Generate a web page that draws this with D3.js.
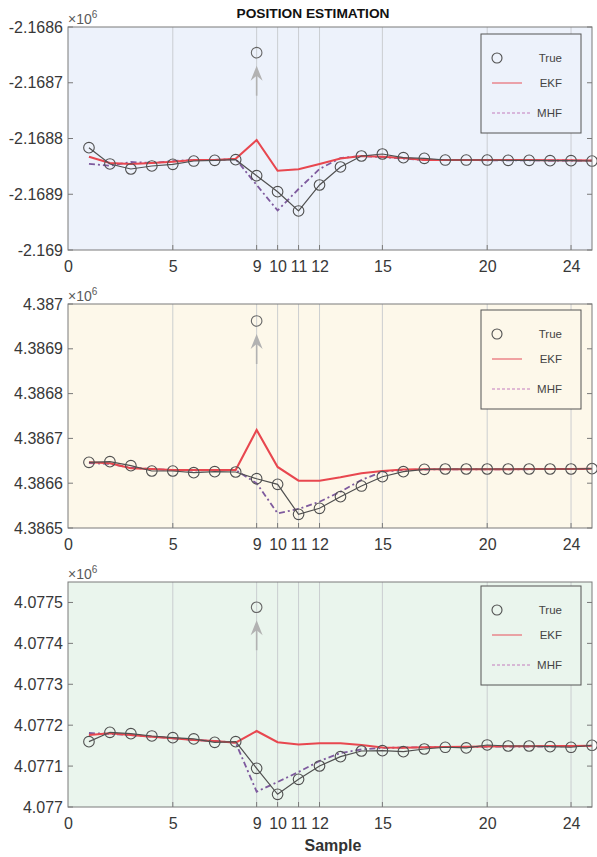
<!DOCTYPE html>
<html><head><meta charset="utf-8">
<script src="https://cdn.jsdelivr.net/npm/d3@7"></script>
<style>
body{margin:0;background:#fff}
svg{display:block}
text{font-family:"Liberation Sans",Arial,Helvetica,sans-serif}
</style>
</head><body>
<svg id="chart" width="597" height="857"></svg>
<script>
// ---------------- DATA (values in units of 10^6) ----------------
const samples = [1,2,3,4,5,6,7,8,9,10,11,12,13,14,15,16,17,18,19,20,21,22,23,24,25];
const xTicks = [0,5,9,10,11,12,15,20,24];
const gridX = [5,9,10,11,12,15,20,24];
const seriesNames = ["True","EKF","MHF"];
const chartTitle = "POSITION ESTIMATION";
const xLabel = "Sample";
const outlierSample = 9;

// Panel 1
const p1Domain = [-2.169, -2.1686];
const p1Ticks = [-2.1686,-2.1687,-2.1688,-2.1689,-2.169];
const p1TickLabels = ["-2.1686","-2.1687","-2.1688","-2.1689","-2.169"];
const p1True = [-2.1688165,-2.1688457,-2.1688547,-2.1688493,-2.1688463,-2.1688404,-2.1688391,-2.168838,-2.1688667,-2.1688954,-2.16893,-2.1688834,-2.1688511,-2.1688314,-2.1688278,-2.1688344,-2.1688355,-2.1688386,-2.1688386,-2.1688386,-2.1688391,-2.1688391,-2.1688398,-2.1688398,-2.1688404];
const p1EKF = [-2.1688326,-2.1688439,-2.1688457,-2.1688439,-2.1688416,-2.1688386,-2.1688386,-2.1688362,-2.1688027,-2.1688578,-2.1688552,-2.1688457,-2.1688359,-2.1688314,-2.1688326,-2.168835,-2.1688386,-2.1688386,-2.1688386,-2.1688386,-2.1688386,-2.1688386,-2.1688391,-2.1688391,-2.1688395];
const p1MHF = [-2.1688457,-2.1688488,-2.1688422,-2.1688439,-2.1688404,-2.1688386,-2.1688386,-2.1688368,-2.1688834,-2.1689291,-2.1688906,-2.1688547,-2.168835,-2.1688314,-2.1688332,-2.1688359,-2.1688386,-2.1688386,-2.1688386,-2.1688391,-2.1688391,-2.1688391,-2.1688395,-2.1688395,-2.1688398];
const p1Outlier = -2.1686461;

// Panel 2
const p2Domain = [4.3865, 4.387];
const p2Ticks = [4.387,4.3869,4.3868,4.3867,4.3866,4.3865];
const p2TickLabels = ["4.387","4.3869","4.3868","4.3867","4.3866","4.3865"];
const p2True = [4.3866467,4.386648,4.3866391,4.3866272,4.3866272,4.3866234,4.3866257,4.386625,4.38661,4.3865975,4.3865306,4.386544,4.3865699,4.3865937,4.3866145,4.3866257,4.386631,4.3866317,4.3866317,4.3866317,4.3866317,4.3866317,4.3866317,4.3866317,4.3866324];
const p2EKF = [4.3866467,4.3866444,4.3866333,4.3866317,4.3866295,4.3866295,4.3866295,4.3866295,4.3867188,4.3866362,4.3866056,4.3866056,4.3866132,4.3866221,4.3866272,4.3866306,4.386631,4.386631,4.386631,4.386631,4.386631,4.3866317,4.3866317,4.3866317,4.3866324];
const p2MHF = [4.3866451,4.3866429,4.3866346,4.3866317,4.3866295,4.3866283,4.3866295,4.3866295,4.3865998,4.3865328,4.3865424,4.3865587,4.386581,4.3866071,4.3866257,4.3866295,4.3866306,4.386631,4.386631,4.386631,4.386631,4.386631,4.3866317,4.3866317,4.3866324];
const p2Outlier = 4.3869621;

// Panel 3
const p3Domain = [4.077, 4.07755];
const p3Ticks = [4.0775,4.0774,4.0773,4.0772,4.0771,4.077];
const p3TickLabels = ["4.0775","4.0774","4.0773","4.0772","4.0771","4.077"];
const p3True = [4.0771597,4.0771826,4.0771792,4.0771736,4.0771694,4.0771663,4.0771582,4.0771597,4.0770946,4.0770311,4.0770677,4.0771002,4.077123,4.0771369,4.0771377,4.0771352,4.0771418,4.077146,4.0771443,4.0771516,4.0771491,4.0771491,4.0771474,4.077146,4.0771509];
const p3EKF = [4.077176,4.0771802,4.077176,4.0771719,4.077168,4.0771638,4.0771614,4.0771572,4.0771858,4.0771582,4.0771528,4.0771557,4.0771557,4.0771516,4.0771455,4.077145,4.077146,4.0771467,4.0771474,4.0771479,4.0771484,4.0771484,4.0771491,4.0771491,4.0771499];
const p3MHF = [4.0771809,4.0771785,4.077176,4.0771719,4.077168,4.0771638,4.0771614,4.0771572,4.0770374,4.0770611,4.0770856,4.0771125,4.077132,4.0771406,4.0771443,4.0771455,4.077146,4.0771467,4.0771467,4.0771474,4.0771474,4.0771479,4.0771479,4.0771484,4.0771491];
const p3Outlier = 4.0774883;

// ---------------- LAYOUT / STYLE ----------------
const left = 68, right = 592;
const panels = [
  {top:27,  bottom:250, bg:"#edf2fb", domain:p1Domain, ticks:p1Ticks, labels:p1TickLabels, tru:p1True, ekf:p1EKF, mhf:p1MHF, outlier:p1Outlier, legendTop:34},
  {top:304, bottom:528, bg:"#fdf8ea", domain:p2Domain, ticks:p2Ticks, labels:p2TickLabels, tru:p2True, ekf:p2EKF, mhf:p2MHF, outlier:p2Outlier, legendTop:310},
  {top:582, bottom:807, bg:"#eaf5ed", domain:p3Domain, ticks:p3Ticks, labels:p3TickLabels, tru:p3True, ekf:p3EKF, mhf:p3MHF, outlier:p3Outlier, legendTop:586}
];
const colTrue = "#505050", colEKF = "#e8474f", colMHF = "#7e5a9e";
const axisCol = "#7a7a7a", textCol = "#383838";

const svg = d3.select("#chart");
const x = d3.scaleLinear().domain([0,25]).range([left,right]);

svg.append("text")
  .attr("x", 313).attr("y", 18)
  .attr("text-anchor","middle")
  .attr("font-size", 12).attr("font-weight","bold")
  .attr("fill","#111")
  .attr("textLength",153).attr("lengthAdjust","spacingAndGlyphs")
  .text(chartTitle);

panels.forEach(p => {
  const y = d3.scaleLinear().domain(p.domain).range([p.bottom, p.top]);
  const g = svg.append("g");

  g.append("rect").attr("x",left).attr("y",p.top)
    .attr("width",right-left).attr("height",p.bottom-p.top)
    .attr("fill",p.bg);

  g.selectAll(".grid").data(gridX).enter().append("line")
    .attr("x1",d=>x(d)).attr("x2",d=>x(d))
    .attr("y1",p.top).attr("y2",p.bottom)
    .attr("stroke","#c6c9cd").attr("stroke-width",0.9);

  const xAxis = d3.axisBottom(x).tickValues(xTicks).tickSize(0).tickPadding(11).tickFormat(d3.format("d"));
  const xa = g.append("g").attr("transform",`translate(0,${p.bottom})`).call(xAxis);
  xa.select(".domain").remove();
  xa.selectAll("text").attr("font-size",16).attr("fill",textCol).attr("font-family","'Liberation Sans',Arial,sans-serif");
  g.selectAll(".bt").data(xTicks.filter(d=>d>0)).enter().append("line")
    .attr("x1",d=>x(d)).attr("x2",d=>x(d))
    .attr("y1",p.bottom).attr("y2",p.bottom-5)
    .attr("stroke",axisCol).attr("stroke-width",1);

  const yAxis = d3.axisLeft(y).tickValues(p.ticks).tickSize(0).tickPadding(5)
    .tickFormat((d,i)=>p.labels[i]);
  const ya = g.append("g").attr("transform",`translate(${left},0)`).call(yAxis);
  ya.select(".domain").remove();
  ya.selectAll("text").attr("font-size",16).attr("fill",textCol).attr("font-family","'Liberation Sans',Arial,sans-serif");
  g.selectAll(".lt").data(p.ticks).enter().append("line")
    .attr("x1",left).attr("x2",left+5).attr("y1",d=>y(d)).attr("y2",d=>y(d))
    .attr("stroke",axisCol);
  g.selectAll(".rt").data(p.ticks).enter().append("line")
    .attr("x1",right).attr("x2",right-5).attr("y1",d=>y(d)).attr("y2",d=>y(d))
    .attr("stroke",axisCol);

  const ex = g.append("text").attr("x",left).attr("y",p.top-3)
    .attr("font-size",14).attr("fill","#5a5a5a");
  ex.append("tspan").text("\u00d710");
  ex.append("tspan").attr("dy",-6).attr("font-size",10).text("6");

  const line = arr => d3.line().x((d,i)=>x(samples[i])).y(d=>y(d))(arr);

  g.append("path").attr("d",line(p.mhf)).attr("fill","none")
    .attr("stroke",colMHF).attr("stroke-width",1.8).attr("stroke-dasharray","6,3,2,3");
  g.append("path").attr("d",line(p.ekf)).attr("fill","none")
    .attr("stroke",colEKF).attr("stroke-width",2.1);
  g.append("path").attr("d",line(p.tru)).attr("fill","none")
    .attr("stroke",colTrue).attr("stroke-width",1.2);
  g.selectAll(".pt").data(p.tru).enter().append("circle")
    .attr("cx",(d,i)=>x(samples[i])).attr("cy",d=>y(d)).attr("r",5.3)
    .attr("fill","none").attr("stroke",colTrue).attr("stroke-width",1.1);

  const ox = x(outlierSample), oy = y(p.outlier);
  g.append("circle").attr("cx",ox).attr("cy",oy).attr("r",5.3)
    .attr("fill","none").attr("stroke","#666").attr("stroke-width",1.1);
  const tip = oy + 13, tail = oy + 43;
  g.append("line").attr("x1",ox).attr("x2",ox).attr("y1",tail).attr("y2",tip+8)
    .attr("stroke","#b2b2b2").attr("stroke-width",1.6);
  g.append("path")
    .attr("d",`M${ox},${tip} L${ox-6},${tip+15} L${ox},${tip+10} L${ox+6},${tip+15} Z`)
    .attr("fill","#b2b2b2");

  g.append("rect").attr("x",left).attr("y",p.top)
    .attr("width",right-left).attr("height",p.bottom-p.top)
    .attr("fill","none").attr("stroke",axisCol).attr("stroke-width",1);

  const lx = 481, lt = p.legendTop, lw = 100, lh = 99;
  const lg = g.append("g");
  lg.append("rect").attr("x",lx).attr("y",lt).attr("width",lw).attr("height",lh)
    .attr("fill",p.bg).attr("stroke","#555").attr("stroke-width",1);
  const rows = [24,49,79];
  lg.append("circle").attr("cx",lx+16).attr("cy",lt+rows[0]).attr("r",5)
    .attr("fill","none").attr("stroke",colTrue).attr("stroke-width",1.1);
  lg.append("line").attr("x1",lx+11).attr("x2",lx+41).attr("y1",lt+rows[1]).attr("y2",lt+rows[1])
    .attr("stroke","#e86a72").attr("stroke-width",1.2);
  lg.append("line").attr("x1",lx+11).attr("x2",lx+49).attr("y1",lt+rows[2]).attr("y2",lt+rows[2])
    .attr("stroke","#c47cbd").attr("stroke-width",1.1).attr("stroke-dasharray","3,2");
  seriesNames.forEach((n,i)=>{
    lg.append("text").attr("x",lx+81).attr("y",lt+rows[i]+4)
      .attr("text-anchor","end").attr("font-size",11.5).attr("fill","#444").text(n);
  });
});

svg.append("text").attr("x",333).attr("y",851)
  .attr("text-anchor","middle").attr("font-size",16).attr("font-weight","bold")
  .attr("fill","#333").text(xLabel);
</script>
</body></html>
